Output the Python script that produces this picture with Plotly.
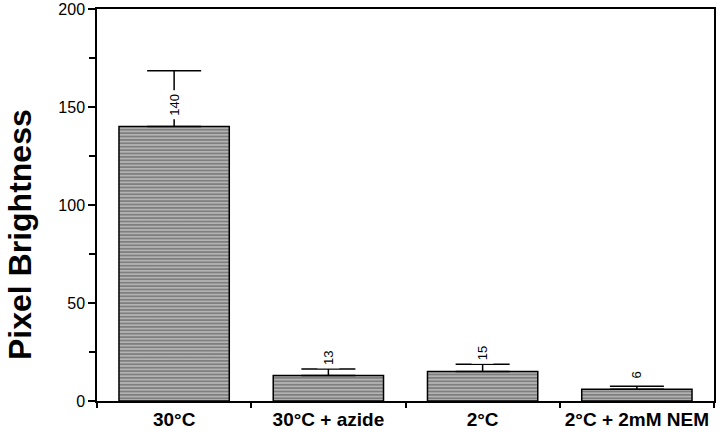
import plotly.graph_objects as go

# values
conditions = ["30°C", "30°C + azide", "2°C", "2°C + 2mM NEM"]
brightness = [140, 13, 15, 6]
sem_upper = [28.5, 3.3, 3.8, 1.5]
value_labels = ["140", "13", "15", "6"]

FONT = "Arial, Liberation Sans, Helvetica, sans-serif"

fig = go.Figure()
fig.add_trace(go.Bar(
    x=conditions, y=brightness, width=0.715,
    marker=dict(color="white",
                line=dict(color="black", width=1.5),
                pattern=dict(shape="-", fgcolor="black", bgcolor="white",
                             size=3.4, solidity=0.8)),
    error_y=dict(type="data", symmetric=False, array=sem_upper,
                 arrayminus=[0] * len(sem_upper),
                 color="black", thickness=1.5, width=27),
    showlegend=False,
))

for cond, val, lab in zip(conditions, brightness, value_labels):
    fig.add_annotation(x=cond, y=val, text=lab, showarrow=False,
                       textangle=-90, yanchor="bottom", yshift=7,
                       bgcolor="white", borderpad=3,
                       font=dict(family=FONT, size=13, color="black"))

# y title sits lower than the plot centre in the original
fig.add_annotation(xref="paper", yref="paper", x=0, y=0.4235, xshift=-77,
                   text="Pixel Brightness", showarrow=False, textangle=-90,
                   xanchor="center", yanchor="middle",
                   font=dict(family=FONT, size=32, weight="bold", color="black"))

fig.update_layout(
    width=720, height=434,
    margin=dict(l=97, r=6, t=9, b=33),
    plot_bgcolor="white", paper_bgcolor="white",
    font=dict(family=FONT, color="black"),
    bargap=0.285,
)
fig.update_xaxes(showline=True, linecolor="black", linewidth=1.5, mirror=True,
                 ticks="outside", tickson="boundaries", ticklen=5, tickwidth=1.5,
                 tickcolor="black", showgrid=False, tickangle=0, automargin=False,
                 tickfont=dict(family=FONT, size=19, weight="bold"))
fig.update_yaxes(range=[0, 200], tickvals=[0, 50, 100, 150, 200],
                 showline=True, linecolor="black", linewidth=1.5, mirror=True,
                 ticks="outside", ticklen=7, tickwidth=1.5, tickcolor="black",
                 minor=dict(ticks="outside", dtick=25, ticklen=6, tickwidth=1.5,
                            tickcolor="black", showgrid=False),
                 showgrid=False, zeroline=False, automargin=False,
                 tickfont=dict(family=FONT, size=16))

# drop the browser's default body margin so the figure fills the window
fig.write_html("out.html", config={"displayModeBar": False},
               post_script="document.body.style.margin='0';")
